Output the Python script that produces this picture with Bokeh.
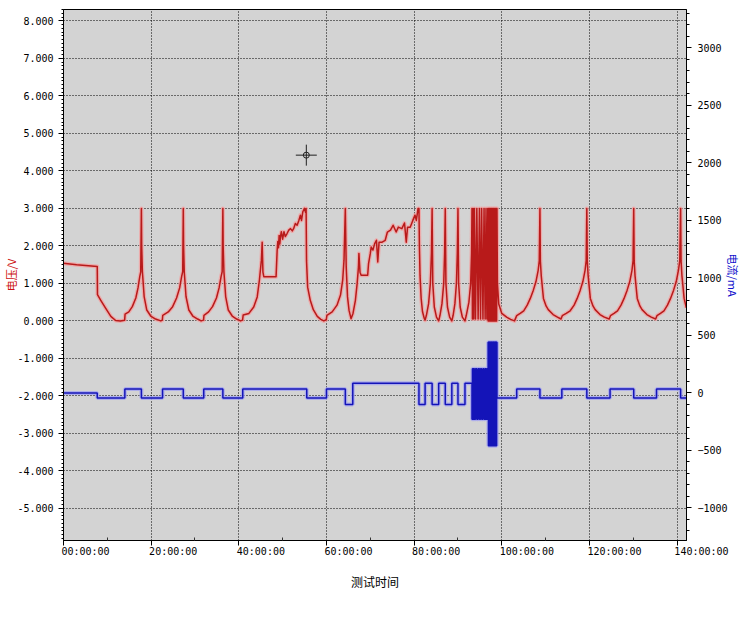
from bokeh.plotting import figure
from bokeh.models import (Range1d, LinearAxis, SingleIntervalTicker, FixedTicker,
                          PrintfTickFormatter)
from bokeh.embed import file_html
from bokeh.resources import INLINE

# ---------------- data ----------------
# test time in hours, voltage in V
time_h = [
    0.0, 3.0, 7.7, 7.75, 8.5, 9.6, 10.8, 11.9, 13.0, 13.95,
    14.05, 14.9, 15.7, 16.5, 17.0, 17.4, 17.62, 17.77, 17.84, 18.0, 18.4, 19.0, 19.9, 21.0, 22.2, 22.55,
    22.65, 23.9, 24.9, 25.8, 26.5, 26.95, 27.2, 27.33, 27.4, 27.55, 27.95, 28.6, 29.5, 30.6, 31.4, 31.95,
    32.05, 33.1, 34.0, 34.9, 35.5, 35.95, 36.2, 36.36, 36.43, 36.6, 37.0, 37.6, 38.5, 39.5, 40.4, 40.85,
    41.0, 42.3, 43.4, 44.2, 44.7, 45.15, 45.33, 45.5, 45.7, 48.5,
    48.75, 48.9, 49.05, 49.2, 49.35, 49.5, 49.7, 50.0, 50.3, 50.6, 51.0, 51.4, 51.8, 52.2, 52.5, 52.9,
    53.3, 53.7, 54.05, 54.3, 54.6, 55.0, 55.2, 55.35,
    55.45, 55.7, 56.3, 57.0, 57.9, 58.7, 59.4, 59.95,
    60.1, 61.3, 62.4, 63.2, 63.7, 64.0, 64.3, 64.5, 64.8, 65.15, 65.6,
    66.05, 66.6, 67.0, 67.3, 67.4, 67.65, 67.9, 69.4,
    69.6, 70.0, 70.2, 70.6, 71.0, 71.4, 71.7, 72.0, 72.7, 73.4, 73.9, 74.6, 75.2, 75.9, 76.4, 77.2,
    77.8, 78.2, 78.5, 79.1, 79.7, 80.2, 80.5, 80.9, 81.1,
    81.2, 81.35, 81.6, 81.9, 82.3, 82.5,
    82.8, 83.3, 83.7, 83.95, 84.1, 84.25, 84.6, 85.1, 85.6,
    85.9, 86.35, 86.75, 86.95, 87.1, 87.25, 87.6, 88.1, 88.6,
    88.9, 89.3, 89.65, 89.85, 90.0, 90.15, 90.5, 91.0, 91.6,
    91.9, 92.5, 92.9, 93.1, 93.2,
    93.3, 93.45, 93.6, 93.75, 94.0, 94.3, 94.6, 94.9, 95.15, 95.4, 95.7, 95.95, 96.2, 96.4, 96.6, 96.8,
    96.88, 96.95, 97.02, 97.1, 97.17, 97.25, 97.32, 97.4, 97.47, 97.55, 97.62, 97.7, 97.77, 97.85,
    97.92, 98.0, 98.07, 98.15, 98.22, 98.3, 98.37, 98.45, 98.52, 98.6, 98.67, 98.75, 98.82, 98.9,
    99.0, 99.3, 100.0, 101.1, 102.0, 102.9,
    103.4, 104.2, 105.0, 105.8, 106.5, 107.2, 107.8, 108.3, 108.55, 108.7, 108.8, 109.0, 109.5, 110.1, 110.6, 111.7, 112.7, 113.5,
    113.8, 114.7, 115.6, 116.5, 117.2, 117.9, 118.5, 119.0, 119.25, 119.4, 119.5, 119.7, 120.2, 120.8, 121.3, 122.4, 123.4, 124.5,
    124.8, 125.6, 126.4, 127.2, 127.9, 128.6, 129.2, 129.7, 129.95, 130.1, 130.2, 130.4, 130.9, 131.5, 132.0, 133.1, 134.1, 135.1,
    135.4, 136.2, 137.0, 137.8, 138.5, 139.2, 139.8, 140.3, 140.6, 140.8, 140.9, 141.1, 141.6, 142.1,
]
voltage_v = [
    1.54, 1.50, 1.45, 0.70, 0.55, 0.34, 0.12, 0.01, 0.0, 0.02,
    0.18, 0.24, 0.38, 0.61, 0.88, 1.18, 1.31, 3.0, 2.0, 1.31, 0.65, 0.29, 0.13, 0.05, 0.0, 0.02,
    0.15, 0.24, 0.38, 0.61, 0.88, 1.18, 1.31, 3.0, 2.0, 1.31, 0.65, 0.29, 0.13, 0.05, 0.0, 0.02,
    0.15, 0.24, 0.38, 0.61, 0.88, 1.18, 1.31, 3.0, 2.0, 1.31, 0.65, 0.29, 0.13, 0.05, 0.0, 0.02,
    0.16, 0.2, 0.37, 0.64, 1.09, 1.62, 2.1, 1.3, 1.18, 1.18,
    1.89, 2.12, 1.95, 2.28, 2.05, 2.24, 2.38, 2.18, 2.38, 2.25, 2.33, 2.42, 2.46, 2.4, 2.46, 2.6,
    2.55, 2.68, 2.82, 2.68, 2.91, 3.0, 2.9, 3.0,
    1.6, 0.9, 0.55, 0.3, 0.12, 0.04, 0.0, 0.03,
    0.15, 0.24, 0.42, 0.69, 1.09, 1.62, 3.0, 1.44, 0.64, 0.28, 0.06,
    0.2, 0.55, 1.0, 1.44, 1.8, 1.3, 1.22, 1.22,
    1.53, 1.8, 1.97, 1.89, 2.06, 2.15, 1.57, 2.1, 2.1, 2.15, 2.37, 2.42, 2.55, 2.37, 2.5, 2.46,
    2.61, 2.1, 2.5, 2.5, 2.68, 2.82, 2.68, 3.0, 3.0,
    2.0, 1.2, 0.6, 0.25, 0.07, 0.02,
    0.15, 0.46, 1.0, 1.8, 3.0, 1.0, 0.37, 0.1, 0.0,
    0.15, 0.46, 1.0, 1.8, 3.0, 1.0, 0.37, 0.1, 0.0,
    0.15, 0.46, 1.0, 1.8, 3.0, 1.0, 0.37, 0.1, 0.0,
    0.15, 0.5, 1.0, 1.8, 3.0,
    0.05, 3.0, 0.05, 3.0, 0.05, 3.0, 0.05, 3.0, 0.05, 3.0, 0.05, 3.0, 0.05, 3.0, 0.05, 3.0,
    0.0, 3.0, 0.0, 3.0, 0.0, 3.0, 0.0, 3.0, 0.0, 3.0, 0.0, 3.0, 0.0, 3.0,
    0.0, 3.0, 0.0, 3.0, 0.0, 3.0, 0.0, 3.0, 0.0, 3.0, 0.0, 3.0, 0.0, 3.0,
    1.0, 0.45, 0.2, 0.1, 0.04, 0.0,
    0.14, 0.2, 0.27, 0.42, 0.6, 0.82, 1.05, 1.35, 1.6, 3.0, 1.6, 1.2, 0.6, 0.4, 0.3, 0.17, 0.1, 0.05,
    0.14, 0.2, 0.27, 0.42, 0.6, 0.82, 1.05, 1.35, 1.6, 3.0, 1.6, 1.2, 0.6, 0.4, 0.3, 0.17, 0.1, 0.05,
    0.14, 0.2, 0.27, 0.42, 0.6, 0.82, 1.05, 1.35, 1.6, 3.0, 1.6, 1.2, 0.6, 0.4, 0.3, 0.17, 0.1, 0.05,
    0.14, 0.2, 0.27, 0.42, 0.6, 0.82, 1.05, 1.35, 1.6, 3.0, 1.6, 1.2, 0.6, 0.35,
]

# current steps: time (h) where a level starts, current in mA
current_t = [
    0.0, 7.7, 14.0, 17.77, 22.6, 27.33, 32.0, 36.36, 40.9, 55.5, 60.0, 64.3, 66.0, 81.1,
    82.5, 84.1, 85.6, 87.1, 88.6, 90.0, 91.6,
    93.2, 93.3, 93.45, 93.6, 93.75, 94.0, 94.3, 94.6, 94.9, 95.15, 95.4, 95.7, 95.95, 96.2, 96.4, 96.6, 96.8,
    96.88, 96.95, 97.02, 97.1, 97.17, 97.25, 97.32, 97.4, 97.47, 97.55, 97.62, 97.7, 97.77, 97.85,
    97.92, 98.0, 98.07, 98.15, 98.22, 98.3, 98.37, 98.45, 98.52, 98.6, 98.67, 98.75, 98.82,
    98.9, 103.4, 108.7, 113.7, 119.4, 124.7, 130.1, 135.3, 140.8, 142.14,
]
current_ma = [
    0, -45, 35, -45, 35, -45, 35, -45, 35, -45, 35, -100, 85, -100,
    85, -100, 85, -100, 85, -100, 85,
    -230, 210, -230, 210, -230, 210, -230, 210, -230, 210, -230, 210, -230, 210, -230, 210, -230,
    440, -460, 440, -460, 440, -460, 440, -460, 440, -460, 440, -460, 440, -460,
    440, -460, 440, -460, 440, -460, 440, -460, 440, -460, 440, -460, 440,
    -45, 35, -45, 35, -45, 35, -45, 35, -45, -45,
]

x_ticks = [0, 20, 40, 60, 80, 100, 120, 140]
x_minor_ticks = [10, 30, 50, 70, 90, 110, 130]
x_tick_labels = ["00:00:00", "20:00:00", "40:00:00", "60:00:00", "80:00:00",
                 "100:00:00", "120:00:00", "140:00:00"]
cursor_t = [55.4]
cursor_v = [4.42]

assert len(time_h) == len(voltage_v)
assert len(current_t) == len(current_ma)

# ---------------- layout ----------------
X_MAX = 142.14
V_MIN, V_MAX = -5.856, 8.304
I_MIN, I_MAX = -1283.5, 3334.0

W, H = 743, 619
B_LEFT, B_RIGHT, B_TOP, B_BOTTOM = 63, 56, 9, 79
FRAME_W = W - B_LEFT - B_RIGHT

TICK_FONT = "DejaVu Sans Mono"
TICK_SIZE = 10
CHAR_W = 0.602 * TICK_SIZE
CJK_FONT = "Noto Sans CJK SC"

p = figure(width=W, height=H, output_backend="svg", toolbar_location=None,
           x_range=Range1d(0, X_MAX), y_range=Range1d(V_MIN, V_MAX),
           min_border_left=B_LEFT, min_border_right=B_RIGHT,
           min_border_top=B_TOP, min_border_bottom=B_BOTTOM,
           background_fill_color="#D3D3D3", border_fill_color="white",
           outline_line_color="black", outline_line_width=1)
p.extra_y_ranges = {"cur": Range1d(I_MIN, I_MAX)}
p.extra_x_ranges = {"lab": Range1d(0, X_MAX)}

# x axis: ticks only
xa = p.xaxis[0]
xa.ticker = FixedTicker(ticks=x_ticks, minor_ticks=x_minor_ticks)
xa.major_label_overrides = {t: "" for t in x_ticks}
xa.major_label_text_font_size = "0px"
xa.major_label_standoff = 5
xa.axis_line_color = "black"
xa.major_tick_line_color = "black"
xa.major_tick_out = 5
xa.major_tick_in = 0
xa.minor_tick_line_color = "#333333"
xa.minor_tick_in = 3
xa.minor_tick_out = 0

# x labels: left-aligned at each tick.  The label centre is shifted right by
# half its width; a label whose centre would fall past the frame end is put at
# the frame end and padded on the left with no-break spaces instead.
px_per_h = FRAME_W / X_MAX
lab_pos, lab_txt = [], []
for t, s in zip(x_ticks, x_tick_labels):
    start_px = t * px_per_h - 2
    centre_px = start_px + len(s) * CHAR_W / 2
    if centre_px / px_per_h < X_MAX - 0.02:
        lab_pos.append(round(centre_px / px_per_h, 4))
        lab_txt.append(s)
    else:
        end_px = (X_MAX - 0.02) * px_per_h
        n_pad = max(0, round(len(s) - 2 * (end_px - start_px) / CHAR_W))
        lab_pos.append(round(X_MAX - 0.02, 4))
        lab_txt.append("\u00a0" * n_pad + s)

xl = LinearAxis(x_range_name="lab", ticker=FixedTicker(ticks=lab_pos, minor_ticks=[]))
xl.major_label_overrides = {pos: s for pos, s in zip(lab_pos, lab_txt)}
xl.major_label_text_font = TICK_FONT
xl.major_label_text_font_size = f"{TICK_SIZE}px"
xl.major_label_text_color = "black"
xl.major_label_standoff = 0
xl.axis_line_color = None
xl.major_tick_line_color = None
xl.minor_tick_line_color = None
xl.major_tick_out = 0
xl.major_tick_in = 0
xl.axis_label = "测试时间"
xl.axis_label_text_font = CJK_FONT
xl.axis_label_text_font_size = "12px"
xl.axis_label_text_font_style = "normal"
xl.axis_label_text_color = "black"
xl.axis_label_standoff = 13
p.add_layout(xl, "below")

# left axis
ya = p.yaxis[0]
ya.ticker = SingleIntervalTicker(interval=1, num_minor_ticks=10)
ya.formatter = PrintfTickFormatter(format="%.3f")
ya.axis_line_color = "black"
ya.major_tick_line_color = "black"
ya.major_tick_out = 5
ya.major_tick_in = 0
ya.minor_tick_line_color = "black"
ya.minor_tick_out = 2
ya.minor_tick_in = 0
ya.major_label_text_font = TICK_FONT
ya.major_label_text_font_size = f"{TICK_SIZE}px"
ya.major_label_text_color = "black"
ya.major_label_standoff = 5
ya.axis_label = "电压/V"
ya.axis_label_text_font = CJK_FONT
ya.axis_label_text_font_size = "11px"
ya.axis_label_text_font_style = "normal"
ya.axis_label_text_color = "#CC1111"
ya.axis_label_standoff = -5

# right axis
ra = LinearAxis(y_range_name="cur", ticker=SingleIntervalTicker(interval=500, num_minor_ticks=5))
ra.axis_line_color = "black"
ra.major_tick_line_color = "black"
ra.major_tick_out = 5
ra.major_tick_in = 0
ra.minor_tick_line_color = "black"
ra.minor_tick_out = 3
ra.minor_tick_in = 0
ra.major_label_text_font = TICK_FONT
ra.major_label_text_font_size = f"{TICK_SIZE}px"
ra.major_label_text_color = "black"
ra.major_label_standoff = 6
ra.axis_label = "电流/mA"
ra.axis_label_text_font = CJK_FONT
ra.axis_label_text_font_size = "11px"
ra.axis_label_text_font_style = "normal"
ra.axis_label_text_color = "#1111CC"
ra.axis_label_standoff = -6
p.add_layout(ra, "right")

# grids
p.xgrid.ticker = FixedTicker(ticks=x_ticks)
p.xgrid.grid_line_color = "black"
p.xgrid.grid_line_dash = "1 2"
p.ygrid.grid_line_color = "black"
p.ygrid.grid_line_dash = "1 2"

# series
p.line(time_h, voltage_v, line_color="#F2A0A0", line_width=4, line_alpha=0.8, line_join="round")
p.line(time_h, voltage_v, line_color="#B81A1A", line_width=1.5, line_join="round")
p.step(current_t, current_ma, mode="after", y_range_name="cur",
       line_color="#A4A4F0", line_width=4, line_alpha=0.8)
p.step(current_t, current_ma, mode="after", y_range_name="cur",
       line_color="#1414B8", line_width=1.5)

# cursor marker
p.scatter(cursor_t, cursor_v, marker="cross", size=21, line_color="#202020", line_width=1)
p.scatter(cursor_t, cursor_v, marker="circle", size=6, line_color="#202020",
          fill_color=None, line_width=1)

open("out.html", "w").write(file_html(p, INLINE))
